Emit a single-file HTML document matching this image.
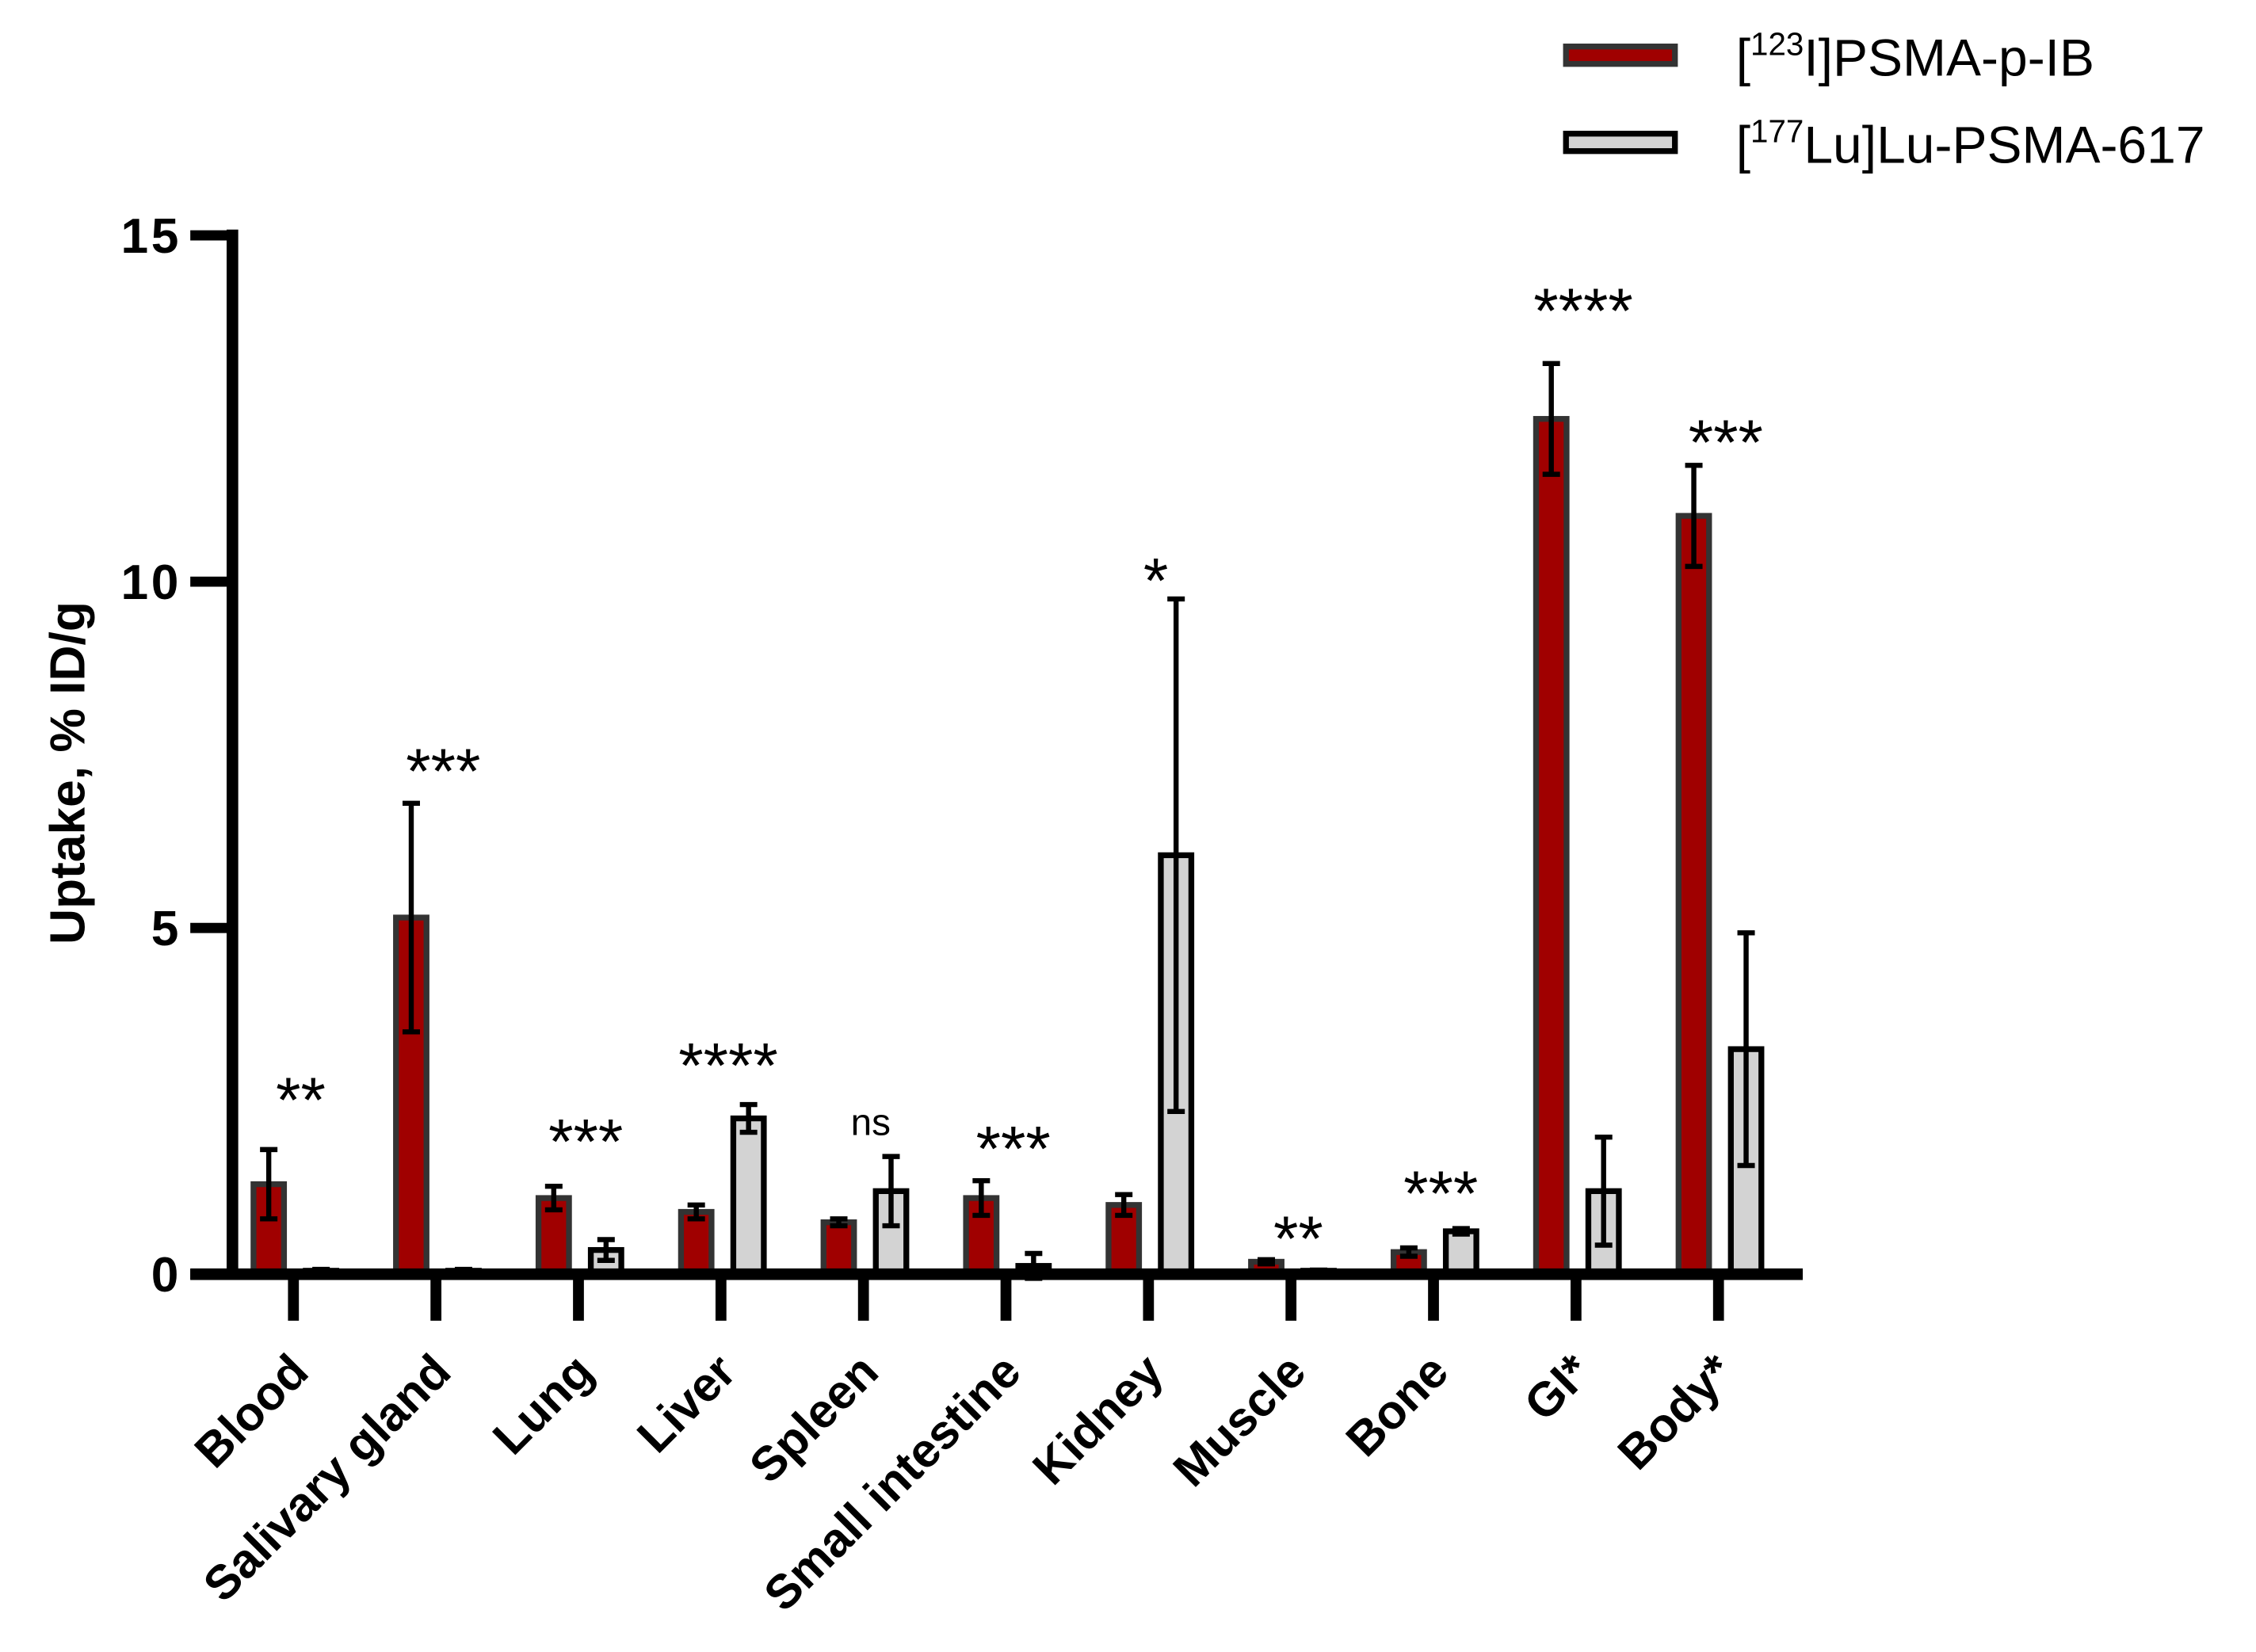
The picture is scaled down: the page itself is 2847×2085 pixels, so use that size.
<!DOCTYPE html>
<html><head><meta charset="utf-8"><style>
html,body{margin:0;padding:0;background:#fff;}
svg{display:block;font-family:"Liberation Sans",Arial,sans-serif;}
</style></head><body>
<svg id="chart" width="2847" height="2085" viewBox="0 0 1553 1137" preserveAspectRatio="none" xmlns="http://www.w3.org/2000/svg">
<rect width="1553" height="1137" fill="#fff"/>
<g id="legend">
  <g>
    <rect x="1078" y="32" width="75" height="12" fill="#a00000" stroke="#333" stroke-width="4"/>
    <text x="1195" y="52" font-size="36">[<tspan font-size="22" dy="-14">123</tspan><tspan dy="14">I]PSMA-p-IB</tspan></text>
  </g>
  <g>
    <rect x="1078" y="92" width="75" height="12" fill="#d3d3d3" stroke="#000" stroke-width="4"/>
    <text x="1195" y="112" font-size="36">[<tspan font-size="22" dy="-14">177</tspan><tspan dy="14">Lu]Lu-PSMA-617</tspan></text>
  </g>
</g>
<g id="plot"></g>
<text transform="translate(58,532) rotate(-90)" text-anchor="middle" font-size="34" font-weight="bold">Uptake, % ID/g</text>
</svg>
<script>
const categories = ["Blood","Salivary gland","Lung","Liver","Spleen","Small intestine","Kidney","Muscle","Bone","GI*","Body*"];
const seriesA = [1.3,5.15,1.1,0.9,0.75,1.1,1.0,0.18,0.32,12.35,10.95];
const errA = [0.5,1.65,0.17,0.1,0.05,0.25,0.15,0.03,0.06,0.8,0.73];
const seriesB = [0.05,0.05,0.35,2.25,1.2,0.12,6.05,0.05,0.62,1.2,3.25];
const errB = [0.02,0.02,0.15,0.2,0.5,0.18,3.7,0.01,0.04,0.78,1.68];
const sigLabels = ["**","***","***","****","ns","***","*","**","***","****","***"];
const sigHeights = [2.7,7.45,2.1,3.2,2.2,2.0,10.2,0.7,1.35,14.1,12.2];
const yTicks = [0,5,10,15];

const NS="http://www.w3.org/2000/svg";
const plot=document.getElementById('plot');
const y0=877, yTop=162, xFirst=202, step=98.1;
const y=v=>y0-(v/15)*(y0-yTop);
const xc=i=>xFirst+i*step;
function mk(tag,attrs,parent){const e=document.createElementNS(NS,tag);for(const k in attrs)e.setAttribute(k,attrs[k]);(parent||plot).appendChild(e);return e;}

function bar(cx,v,err,fill,stroke,name){
  const g=mk('g',{});
  
  
  const w=21;
  const r=mk('rect',{x:cx-w/2,y:y(v),width:w,height:Math.max(0,y0-y(v)),fill:fill,stroke:stroke,'stroke-width':4},g);
  
  
  const eb=mk('path',{d:`M${cx},${y(v-err)}V${y(v+err)}M${cx-6},${y(v+err)}H${cx+6}M${cx-6},${y(v-err)}H${cx+6}`,stroke:'#000','stroke-width':3.5,fill:'none'},g);
  
  
}
categories.forEach((c,i)=>{
  bar(xc(i)-17,seriesA[i],errA[i],'#a00000','#333','bar-psma-p-ib-'+i);
  bar(xc(i)+19,seriesB[i],errB[i],'#d3d3d3','#000','bar-psma-617-'+i);
  const isNs = sigLabels[i]==='ns';
  const t=mk('text',{x:xc(i)+5,y:y(sigHeights[i])+(isNs?9:24),'text-anchor':'middle','font-size':isNs?26:44});
  t.textContent=sigLabels[i];
  
  
  const tk=mk('line',{x1:xc(i),x2:xc(i),y1:y0,y2:909,stroke:'#000','stroke-width':7.5});
  
  
  const lb=mk('text',{transform:`translate(${xc(i)+12},946) rotate(-45)`,'text-anchor':'end','font-size':33,'font-weight':'bold'});
  lb.textContent=c;
  
  
});
const ya=mk('line',{x1:160,x2:160,y1:yTop-4,y2:y0,stroke:'#000','stroke-width':8});


yTicks.forEach(v=>{
  const l=mk('line',{x1:131,x2:160,y1:y(v),y2:y(v),stroke:'#000','stroke-width':7});
  
  
  const t=mk('text',{x:125,y:y(v)+12,'text-anchor':'end','font-size':34,'font-weight':'bold','letter-spacing':2});
  t.textContent=v;
  
  
});
const xa=mk('line',{x1:131,x2:1241,y1:y0,y2:y0,stroke:'#000','stroke-width':8});


</script>
</body></html>
